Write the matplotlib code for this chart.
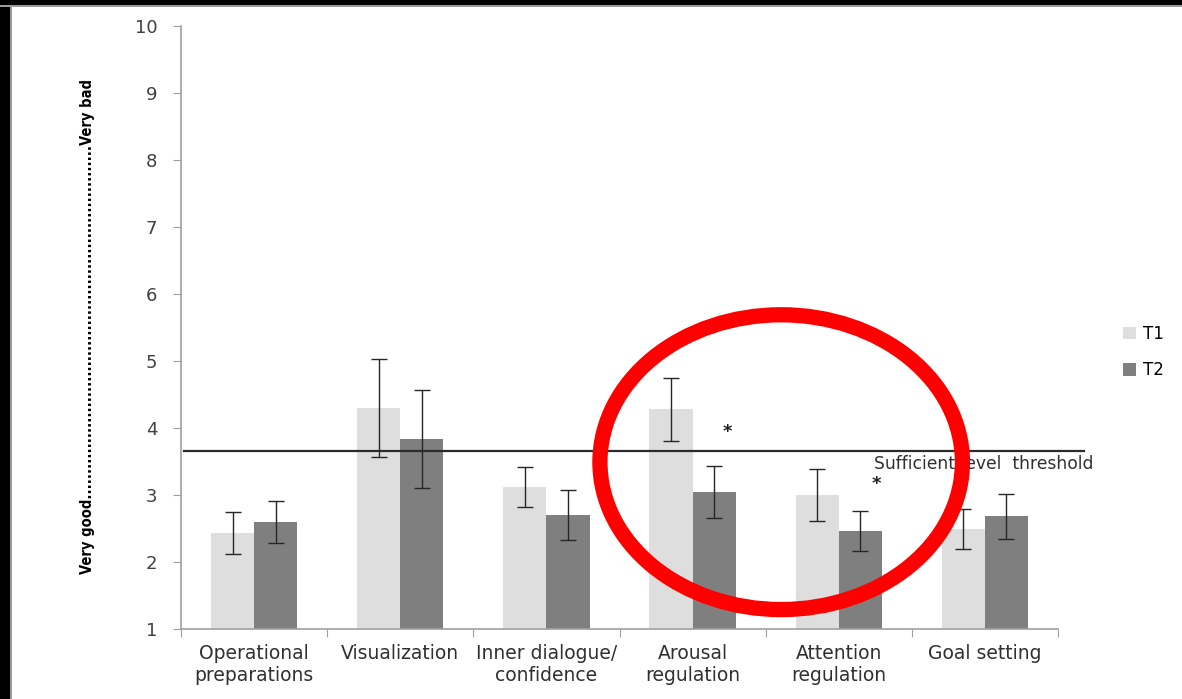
import matplotlib
matplotlib.use("Agg")
import matplotlib.pyplot as plt
from matplotlib.patches import Ellipse, Rectangle
import numpy as np

categories = ["Operational\npreparations", "Visualization", "Inner dialogue/\nconfidence",
              "Arousal\nregulation", "Attention\nregulation", "Goal setting"]
t1_values = [2.43, 4.30, 3.12, 4.28, 3.00, 2.49]
t1_errors = [0.31, 0.73, 0.30, 0.47, 0.39, 0.30]
t2_values = [2.60, 3.84, 2.70, 3.04, 2.46, 2.68]
t2_errors = [0.31, 0.73, 0.37, 0.39, 0.30, 0.34]
threshold = 3.66
yticks = [1, 2, 3, 4, 5, 6, 7, 8, 9, 10]
series_names = ["T1", "T2"]
star_positions = [(3.24, 3.94), (4.26, 3.16)]

W, H = 1182, 699
fig = plt.figure(figsize=(W / 100, H / 100), dpi=100)
fig.patch.set_facecolor("white")

# frame decoration (black border at left and top)
fig.add_artist(Rectangle((0, 0), 10 / W, 1, transform=fig.transFigure, facecolor="black",
                         edgecolor="none", zorder=0))
fig.add_artist(Rectangle((10 / W, 0), 2 / W, 1, transform=fig.transFigure, facecolor="#9a9a9a",
                         edgecolor="none", zorder=0))
fig.add_artist(Rectangle((0, 1 - 5 / H), 1, 5 / H, transform=fig.transFigure, facecolor="black",
                         edgecolor="none", zorder=0))
fig.add_artist(Rectangle((0, 1 - 7 / H), 1, 2 / H, transform=fig.transFigure, facecolor="#9a9a9a",
                         edgecolor="none", zorder=0))

ax = fig.add_axes([181 / W, (H - 629) / H, (1058 - 181) / W, (629 - 26) / H])
x = np.arange(len(categories))
bw = 0.295
c1, c2 = "#dedede", "#7f7f7f"
b1 = ax.bar(x - bw / 2, np.array(t1_values) - 1, bw, bottom=1, color=c1, label=series_names[0], zorder=2)
b2 = ax.bar(x + bw / 2, np.array(t2_values) - 1, bw, bottom=1, color=c2, label=series_names[1], zorder=2)
ax.errorbar(x - bw / 2, t1_values, yerr=t1_errors, fmt="none", ecolor="#262626", elinewidth=1.0,
            capsize=5.5, capthick=1.0, zorder=3)
ax.errorbar(x + bw / 2, t2_values, yerr=t2_errors, fmt="none", ecolor="#262626", elinewidth=1.0,
            capsize=5.5, capthick=1.0, zorder=3)

ax.set_xlim(-0.5, len(categories) - 0.5)
ax.set_ylim(1, 10)
ax.set_yticks(yticks)
ax.set_yticklabels([str(v) for v in yticks], fontsize=13, color="#404040", family="DejaVu Sans")
ax.set_xticks(np.arange(len(categories) + 1) - 0.5)
ax.set_xticklabels([])
ax.set_xticks(x, minor=True)
ax.set_xticklabels(categories, minor=True, fontsize=13.5, color="#303030", family="DejaVu Sans",
                   linespacing=1.18)
ax.tick_params(axis="x", which="minor", length=0, pad=11)
ax.tick_params(axis="x", which="major", length=6, color="#a0a0a0", direction="out")
ax.tick_params(axis="y", length=6, color="#a0a0a0", direction="out", pad=11)
for s in ["top", "right"]:
    ax.spines[s].set_visible(False)
for s in ["left", "bottom"]:
    ax.spines[s].set_color("#a0a0a0")
    ax.spines[s].set_linewidth(1.2)

# threshold line
ax.plot([-0.48, 5.68], [threshold, threshold], color="#2b2b2b", lw=1.6, clip_on=False, zorder=4)
ax.text(4.24, 3.46, "Sufficient level  threshold", fontsize=12.3, color="#303030",
        family="DejaVu Sans", va="center", ha="left", zorder=4)

for (sx, sy) in star_positions:
    ax.text(sx, sy, "*", fontsize=13, fontweight="bold", ha="center", va="center", color="#202020")

# red ellipse annotation
ax.add_patch(Ellipse((3.606, 3.49), 2.48, 4.40, fill=False, edgecolor="#ff0000", lw=11,
                     zorder=5, clip_on=False))

# y label
dots = "." * 69
fig.text(88 / W, 1 - 327 / H, "Very good" + dots + "Very bad", rotation=90, ha="center", va="center",
         fontsize=10.5, fontweight="bold", fontstretch="condensed", family="DejaVu Sans")

ax.legend(handles=[b1, b2], labels=series_names, loc="center left", bbox_to_anchor=(1108 / W, 1 - 352 / H),
          bbox_transform=fig.transFigure, frameon=False, handlelength=0.8,
          handleheight=0.8, handletextpad=0.4, labelspacing=1.1, prop={"family": "DejaVu Sans", "size": 12})

fig.savefig("out.png", dpi=100)
